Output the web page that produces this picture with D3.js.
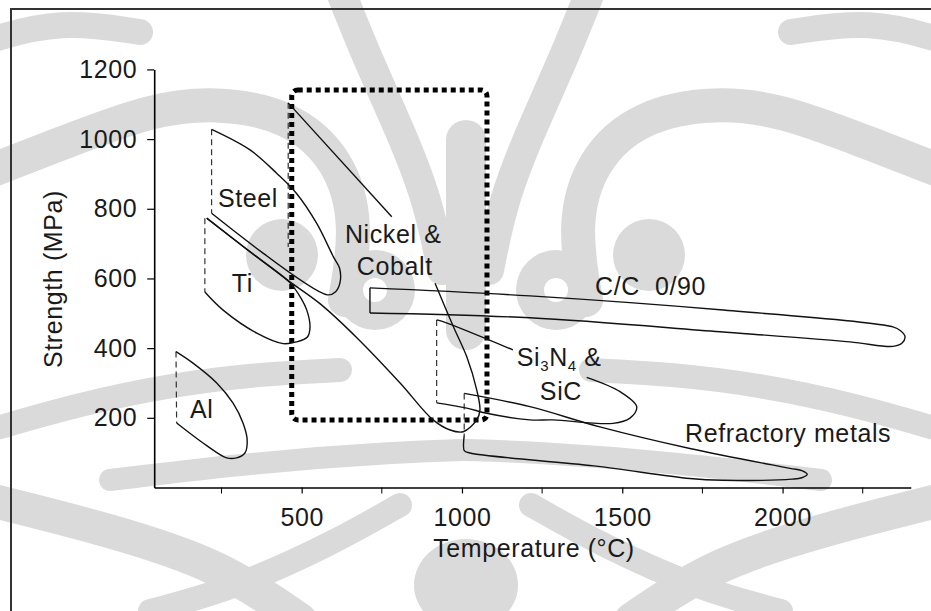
<!DOCTYPE html>
<html>
<head>
<meta charset="utf-8">
<script src="https://cdn.jsdelivr.net/npm/d3@7"></script>
<style>
  body { margin: 0; background: #fff; }
  svg { display: block; }
  text { font-family: 'Liberation Sans', Arial, Helvetica, sans-serif; fill: #1a1a1a; letter-spacing: 0.6px; }
</style>
</head>
<body>
<div id="container"></div>
<script>
// values, as [temperature (°C), strength (MPa)]
var xTicks = [500, 1000, 1500, 2000],
    xMinor = [250, 750, 1250, 1750, 2250],
    yTicks = [200, 400, 600, 800, 1000, 1200];

var alDash = [[108, 390], [110, 185]],
    alLoop = [[108, 390], [161, 357], [235, 300], [286, 242], [317, 185], [330, 136], [323, 99],
              [297, 85], [266, 85], [204, 120], [110, 185]];

var steelDash = [[219, 1028], [219, 787]],
    steelLoop = [[219, 1028], [339, 969], [422, 902], [484, 844], [547, 758], [599, 662], [618, 630],
                 [620, 590], [606, 562], [580, 553], [219, 787]];

var tiDash = [[198, 773], [198, 561]],
    tiLoop = [[204, 773], [339, 676], [463, 588], [500, 540], [516, 509], [526, 461], [518, 432],
              [484, 418], [442, 413], [360, 443], [255, 509], [198, 561]];

var niDash = [[458, 1104], [458, 690]],
    niUpper = [[458, 1104], [781, 777]],
    niLower = [[916, 586], [973, 462], [1015, 375], [1046, 280], [1056, 222], [1046, 194], [1004, 160],
               [963, 165], [910, 194], [807, 300], [672, 430], [558, 527], [455, 596], [204, 773]];
var niBoxT = [469, 1078], niBoxS = [194, 1141];

var ccEdge = [[713, 573], [713, 501]],
    ccLoop = [[713, 573], [1212, 550], [1805, 510], [2344, 461], [2368, 450], [2382, 433], [2372, 414],
              [2344, 405], [2210, 418], [1805, 447], [1212, 487], [713, 501]];

var siDash = [[921, 481], [921, 243]],
    siUpper = [[921, 481], [941, 476], [1159, 395]],
    siLoop = [[1389, 316], [1493, 275], [1545, 232], [1524, 199], [1471, 184], [1284, 194], [1212, 194],
              [1077, 213], [1015, 228], [921, 243]];

var refDash = [[1007, 270], [1007, 150]],
    refLoop = [[1007, 270], [1212, 232], [1430, 174], [1711, 112], [2023, 55], [2062, 48], [2077, 38],
               [2060, 28], [2030, 24], [1814, 21], [1711, 26], [1412, 62], [1025, 99], [1007, 106], [1007, 150]];

var W = 931, H = 611;

var svg = d3.select('#container')
    .append('svg')
    .attr('width', W)
    .attr('height', H);

// faint background emblem of the scan (decoration only)
var wm = svg.append('g').attr('fill', 'none').attr('stroke', '#dadada').attr('stroke-linecap', 'round');
var wmLine = d3.line().curve(d3.curveBasis);
var bands = [
    {w: 34, p: [[-20, 175], [70, 140], [150, 110], [215, 102], [290, 115], [340, 160], [358, 225], [345, 300]]},
    {w: 26, p: [[-10, 40], [60, 20], [140, 32]]},
    {w: 30, p: [[340, -10], [368, 60], [400, 130], [428, 200], [442, 270]]},
    {w: 22, p: [[110, 480], [260, 462], [400, 452], [466, 450]]},
    {w: 24, p: [[-10, 430], [80, 404], [170, 385], [260, 374], [340, 370]]},
    {w: 34, p: [[-10, 500], [110, 530], [220, 565], [300, 620]]},
    {w: 24, p: [[150, 611], [230, 590], [330, 545], [400, 505]]}
];
bands.forEach(function(b) {
    [b.p, b.p.map(function(d) { return [W - d[0], d[1]]; })].forEach(function(p) {
        wm.append('path').attr('d', wmLine(p)).attr('stroke-width', b.w);
    });
});
wm.append('path').attr('d', wmLine([[466, 140], [466, 330]])).attr('stroke-width', 40);
[[375, 290], [556, 290], [282, 255], [649, 255]].forEach(function(c, i) {
    wm.append('circle').attr('cx', c[0]).attr('cy', c[1]).attr('r', i < 2 ? 40 : 36)
        .attr('fill', '#dadada').attr('stroke', 'none');
});
[[375, 290], [556, 290]].forEach(function(c) {
    wm.append('circle').attr('cx', c[0]).attr('cy', c[1]).attr('r', 12).attr('fill', '#fff').attr('stroke', 'none');
});
wm.append('ellipse').attr('cx', 466).attr('cy', 585).attr('rx', 52).attr('ry', 46)
    .attr('fill', '#dadada').attr('stroke', 'none');

// scan frame
svg.append('path').attr('d', 'M11,' + H + 'V9H' + W)
    .attr('fill', 'none').attr('stroke', '#333').attr('stroke-width', 2);

var x = d3.scaleLinear().domain([40, 2400]).range([154.2, 910.8]);
var y = d3.scaleLinear().domain([0, 1200]).range([487.5, 69.4]);

var line = d3.line()
    .x(function(d) { return x(d[0]); })
    .y(function(d) { return y(d[1]); })
    .curve(d3.curveCatmullRom.alpha(0.5));
var straight = d3.line()
    .x(function(d) { return x(d[0]); })
    .y(function(d) { return y(d[1]); });

var fs = 25;

// axes
var gx = svg.append('g')
    .attr('transform', 'translate(0,' + y(0) + ')')
    .call(d3.axisBottom(x).tickValues(xTicks).tickFormat(d3.format('d'))
        .tickSize(6).tickPadding(15).tickSizeOuter(0));
gx.append('g').selectAll('line').data(xMinor).enter().append('line')
    .attr('x1', x).attr('x2', x).attr('y1', 0).attr('y2', 6)
    .attr('stroke', '#000');
var gy = svg.append('g')
    .attr('transform', 'translate(' + x(40) + ',0)')
    .call(d3.axisLeft(y).tickValues(yTicks).tickFormat(d3.format('d'))
        .tickSize(7).tickPadding(10).tickSizeOuter(0));
[gx, gy].forEach(function(g) {
    g.attr('font-size', fs).attr('font-family', null);
    g.select('.domain').attr('stroke-width', 1.6);
    g.selectAll('.tick line').attr('stroke-width', 1.2);
    g.selectAll('text').attr('fill', '#1a1a1a');
});

// dotted box round the nickel & cobalt range
svg.append('rect')
    .attr('x', x(niBoxT[0])).attr('y', y(niBoxS[1]))
    .attr('width', x(niBoxT[1]) - x(niBoxT[0]))
    .attr('height', y(niBoxS[0]) - y(niBoxS[1]))
    .attr('rx', 6)
    .attr('fill', 'none').attr('stroke', '#000')
    .attr('stroke-width', 5).attr('stroke-dasharray', '5,4');

// dashed lower-temperature limits
[alDash, steelDash, tiDash, niDash, siDash, refDash].forEach(function(d) {
    svg.append('path').attr('d', straight(d))
        .attr('fill', 'none').attr('stroke', '#333')
        .attr('stroke-width', 1.2).attr('stroke-dasharray', '6,4');
});

// material envelopes
[alLoop, steelLoop, tiLoop, niUpper, niLower, ccLoop, siUpper, siLoop, refLoop].forEach(function(d) {
    svg.append('path').attr('d', d.length > 2 ? line(d) : straight(d))
        .attr('fill', 'none').attr('stroke', '#111').attr('stroke-width', 1.4);
});
svg.append('path').attr('d', straight(ccEdge))
    .attr('fill', 'none').attr('stroke', '#111').attr('stroke-width', 1.4);

// labels
function label(t, T, S) {
    return svg.append('text').attr('x', x(T)).attr('y', y(S)).attr('font-size', fs)
        .style('white-space', 'pre').text(t);
}
label('Steel', 239, 805);
label('Ti', 282, 561);
label('Al', 152, 199);
label('Nickel &', 635, 702);
label('Cobalt', 672, 610);
label('C/C  0/90', 1415, 553);
label('SiC', 1243, 252);
label('Refractory metals', 1696, 131);

var si = svg.append('text').attr('x', x(1171)).attr('y', y(349)).attr('font-size', fs);
si.append('tspan').text('Si');
si.append('tspan').attr('font-size', 15).attr('dy', 5).text('3');
si.append('tspan').attr('dy', -5).text('N');
si.append('tspan').attr('font-size', 15).attr('dy', 5).text('4');
si.append('tspan').attr('dy', -5).style('white-space', 'pre').text(' &');

svg.append('text')
    .attr('x', 534).attr('y', 557)
    .attr('text-anchor', 'middle').attr('font-size', fs)
    .text('Temperature (°C)');
svg.append('text')
    .attr('transform', 'translate(62,279) rotate(-90)')
    .attr('text-anchor', 'middle').attr('font-size', fs)
    .text('Strength (MPa)');
</script>
</body>
</html>
